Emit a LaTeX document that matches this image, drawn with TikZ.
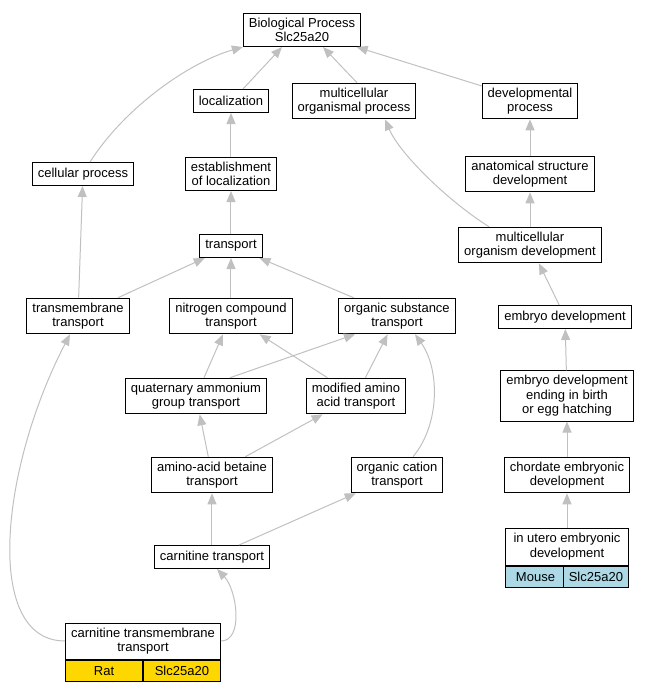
\documentclass[tikz,border=0pt]{standalone}
\usepackage{fontspec}
\setmainfont{Liberation Sans}
\usetikzlibrary{positioning, arrows.meta}
\definecolor{edgegray}{HTML}{C0C0C0}
\definecolor{ratgold}{HTML}{FFD700}
\definecolor{mouseblue}{HTML}{ADD8E6}

\begin{document}
\begin{tikzpicture}[x=1pt, y=1pt, on grid,
    term/.style={draw, 
      line width=1pt, 
      fill=white, 
      align=center, 
      inner xsep=5.5pt, 
      inner ysep=4.5pt, 
      minimum height=23pt, 
      font=\fontsize{13}{14.5}\selectfont},
    cell/.style={term, 
      minimum height=21.5pt, 
      inner ysep=2pt},
    isa/.style={draw=edgegray, 
      line width=1pt, 
      -{Triangle[length=11pt, width=9pt, fill=edgegray]}}]

  \useasboundingbox (-302,30) rectangle (348,-661);

  \node [term] (bp) at (0,0) {Biological Process\\Slc25a20};

  \node [term, below=71pt of bp, xshift=-71pt] (local) {localization};
  \node [term, right=123pt of local] (mop) {multicellular\\organismal process};
  \node [term, right=176pt of mop] (devproc) {developmental\\process};

  \node [term, below=73pt of local] (estab) {establishment\\of localization};
  \node [term, left=148pt of estab] (cellproc) {cellular process};
  \node [term, below=73pt of devproc] (anat) {anatomical structure\\development};

  \node [term, below=72pt of estab] (transport) {transport};
  \node [term, below=71pt of anat] (mod) {multicellular\\organism development};

  \node [term, below=70pt of transport] (nitro) {nitrogen compound\\transport};
  \node [term, left=153pt of nitro] (tmt) {transmembrane\\transport};
  \node [term, right=166pt of nitro] (orgsub) {organic substance\\transport};
  \node [term, below=72pt of mod, xshift=35pt] (embryo) {embryo development};

  \node [term, below=80pt of nitro, xshift=-35pt] (quat) {quaternary ammonium\\group transport};
  \node [term, right=160pt of quat] (modaa) {modified amino\\acid transport};
  \node [term, below=79pt of embryo, xshift=2pt] (ending) {embryo development\\ending in birth\\or egg hatching};

  \node [term, below=79pt of quat, xshift=16pt] (betaine) {amino-acid betaine\\transport};
  \node [term, right=185pt of betaine] (cation) {organic cation\\transport};
  \node [term, below=79pt of ending] (chordate) {chordate embryonic\\development};

  \node [term, below=82pt of betaine] (carnitine) {carnitine transport};
  \node [term, below=71.5pt of chordate, minimum width=123pt, minimum height=37pt] (inutero) {in utero embryonic\\development};
  \node [cell, fill=mouseblue, anchor=north west, minimum width=60pt] (inuterosp) at (inutero.south west) {Mouse};
  \node [cell, fill=mouseblue, anchor=north east, minimum width=63pt] (inuterogene) at (inutero.south east) {Slc25a20};

  \node [term, below=84pt of carnitine, xshift=-69pt, minimum width=154pt, minimum height=36pt] (ctm) {carnitine transmembrane\\transport};
  \node [cell, fill=ratgold, anchor=north west, minimum width=77pt] (ctmsp) at (ctm.south west) {Rat};
  \node [cell, fill=ratgold, anchor=north east, minimum width=77pt] (ctmgene) at (ctm.south east) {Slc25a20};

% IS-A EDGES

  \draw[isa] ([xshift=12pt]local.north) -- ([xshift=-20pt]bp.south);
  \draw[isa] ([xshift=3pt]mop.north) -- ([xshift=21pt]bp.south);
  \draw[isa] (devproc) -- (bp);
  \draw[isa] ([xshift=7pt]cellproc.north) 
    .. controls +(35,55) and +(-53,-15) .. (bp.south west);
  \draw[isa] (estab) -- (local);
  \draw[isa] (anat) -- (devproc);
  \draw[isa] (transport) -- (estab);
  \draw[isa] (mod) -- (anat);
  \draw[isa] ([xshift=-41pt]mod.north) 
    .. controls +(-40,25) and +(15,-35) .. ([xshift=31pt]mop.south);
  \draw[isa] (tmt) -- (cellproc);
  \draw[isa] (tmt) -- (transport);
  \draw[isa] (nitro) -- (transport);
  \draw[isa] (orgsub) -- (transport);
  \draw[isa] (embryo) -- (mod);
  \draw[isa] (quat) -- (nitro);
  \draw[isa] ([xshift=34pt]quat.north) -- ([xshift=-42pt]orgsub.south);
  \draw[isa] (modaa) -- (nitro);
  \draw[isa] (modaa) -- (orgsub);
  \draw[isa] (ending) -- (embryo);
  \draw[isa] (betaine) -- (quat);
  \draw[isa] (betaine) -- (modaa);
  \draw[isa] ([xshift=16pt]cation.north) 
    .. controls +(27,32) and +(25,-35) .. ([xshift=18pt]orgsub.south);
  \draw[isa] (chordate) -- (ending);
  \draw[isa] (carnitine) -- (betaine);
  \draw[isa] (carnitine) -- (cation);
  \draw[isa] (inutero) -- (chordate);
  \draw[isa] (ctm.east) 
    .. controls +(23,0) and +(20,-21) .. ([xshift=5pt]carnitine.south);
  \draw[isa] (ctm.west) 
    .. controls +(-82,0) and +(-70,-135) .. ([xshift=-8pt]tmt.south);

\end{tikzpicture}
\end{document}
